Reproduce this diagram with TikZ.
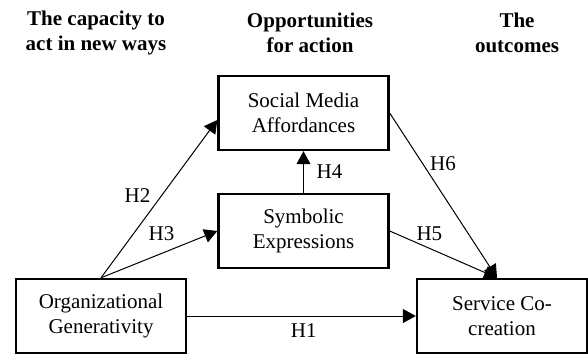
\documentclass[tikz,border=0pt]{standalone}
\usepackage{fontspec}
\setmainfont{Liberation Serif}
\usetikzlibrary{arrows.meta}

\begin{document}
\begin{tikzpicture}[x=0.5pt,y=-0.5pt,
    box/.style={rectangle,draw,line width=1.2pt,minimum width=85pt,minimum height=37pt,
                align=center,inner sep=0pt,font=\fontsize{10.5}{12.5}\selectfont},
    head/.style={align=center,font=\fontsize{10.5}{12.5}\selectfont\bfseries},
    hyp/.style={font=\fontsize{10.5}{12.5}\selectfont},
    link/.style={line width=0.5pt,-{Triangle[length=6.5pt,width=7pt]}}
]
\useasboundingbox (0,0) rectangle (588,354);

\node[head] (capacity) at (96,33) {The capacity to\\act in new ways};
\node[head] (opport) at (310,33) {Opportunities\\for action};
\node[head] (outcome) at (517,33) {The\\outcomes};

\node[box] (og) at (101,316) {Organizational\\Generativity};
\node[box] (sma) at (303.5,113) {Social Media\\Affordances};
\node[box] (se) at (303.5,231) {Symbolic\\Expressions};
\node[box] (sc) at (502,316) {Service Co-\\creation};

\draw[link] (og.east) -- node[hyp,below,pos=0.51]{H1} (sc.west);
\draw[link] (og.north) -- node[hyp,left,pos=0.52,xshift=-2pt]{H2} ([yshift=-3.5pt]sma.west);
\draw[link] (og.north) -- node[hyp,above=3pt,pos=0.52]{H3} (se.west);
\draw[link] (se.north) -- node[hyp,right=3pt]{H4} (sma.south);
\draw[link] (se.east) -- node[hyp,above,pos=0.37]{H5} ([xshift=-2.5pt]sc.north);
\draw[link] (sma.east) -- node[hyp,right,pos=0.31]{H6} ([xshift=-2.5pt]sc.north);
\end{tikzpicture}
\end{document}
